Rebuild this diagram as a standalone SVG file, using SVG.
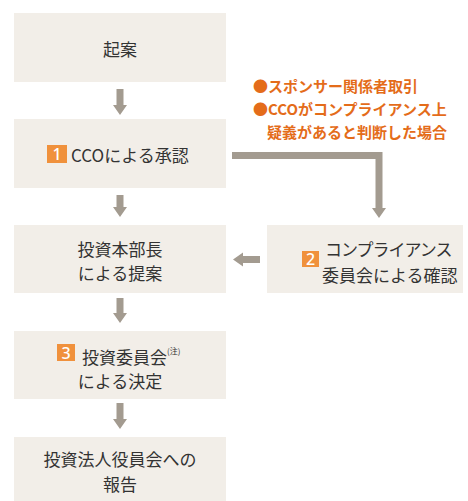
<svg xmlns="http://www.w3.org/2000/svg" width="468" height="501" viewBox="0 0 468 501">
<style>
.box{fill:#f2eee8}
.t{font-family:"Noto Sans CJK JP","Noto Sans",sans-serif;font-size:17px;fill:#333;text-anchor:middle;dominant-baseline:central}
.s{text-anchor:start}
.badge{fill:#f0913c}
.bn{font-family:"Noto Sans","Noto Sans CJK JP",sans-serif;font-size:16px;font-weight:500;fill:#fff;text-anchor:middle;dominant-baseline:central}
.arr{fill:#a39b90}
.note{font-family:"Noto Sans CJK JP","Noto Sans",sans-serif;font-size:15px;font-weight:bold;fill:#e46c1a;dominant-baseline:central}
.sup{font-family:"Noto Sans CJK JP",sans-serif;font-size:8px;fill:#333;dominant-baseline:central}
</style>
<rect width="468" height="501" fill="#fff"/>
<g id="connectors">
<polygon class="arr" points="116.5,89 123.5,89 123.5,105 127,105 120,115 113,105 116.5,105"/>
<polygon class="arr" points="116.5,195 123.5,195 123.5,207 127,207 120,217 113,207 116.5,207"/>
<polygon class="arr" points="116.5,298 123.5,298 123.5,313 127,313 120,323 113,313 116.5,313"/>
<polygon class="arr" points="116.5,403 123.5,403 123.5,419 127,419 120,429 113,419 116.5,419"/>
<polygon class="arr" points="232,152 382.5,152 382.5,208 386,208 379,218 372,208 375.5,208 375.5,159 232,159"/>
<polygon class="arr" points="260,256 260,263 243,263 243,266.5 233,259.5 243,252.5 243,256"/>
</g>
<g id="n1">
<rect class="box" x="14" y="13" width="212" height="69"/>
<text class="t" x="120" y="48">起案</text>
</g>
<g id="n2">
<rect class="box" x="14" y="119" width="212" height="69"/>
<rect class="badge" x="47" y="145" width="20" height="18"/>
<text class="bn" x="57" y="154">1</text>
<text class="t s" x="71" y="154">CCOによる承認</text>
</g>
<g id="n3">
<rect class="box" x="14" y="225" width="212" height="68"/>
<text class="t" x="120" y="248">投資本部長</text>
<text class="t" x="120" y="272">による提案</text>
</g>
<g id="n4">
<rect class="box" x="14" y="331" width="212" height="68"/>
<rect class="badge" x="57" y="344" width="18" height="17"/>
<text class="bn" x="66" y="352.5">3</text>
<text class="t s" x="82" y="356">投資委員会</text>
<text class="sup" x="167" y="350">(注)</text>
<text class="t" x="120" y="380">による決定</text>
</g>
<g id="n5">
<rect class="box" x="14" y="437" width="212" height="64"/>
<text class="t" x="120" y="458">投資法人役員会への</text>
<text class="t" x="120" y="483">報告</text>
</g>
<g id="n6">
<rect class="box" x="267" y="225" width="196" height="68"/>
<rect class="badge" x="302" y="251" width="17" height="16"/>
<text class="bn" x="310.5" y="259">2</text>
<text class="t s" x="325" y="248" letter-spacing="-1">コンプライアンス</text>
<text class="t s" x="322" y="274">委員会による確認</text>
</g>
<g id="note">
<text class="note" x="253" y="85">●スポンサー関係者取引</text>
<text class="note" x="253" y="108">●CCOがコンプライアンス上</text>
<text class="note" x="267" y="131">疑義があると判断した場合</text>
</g>
</svg>
